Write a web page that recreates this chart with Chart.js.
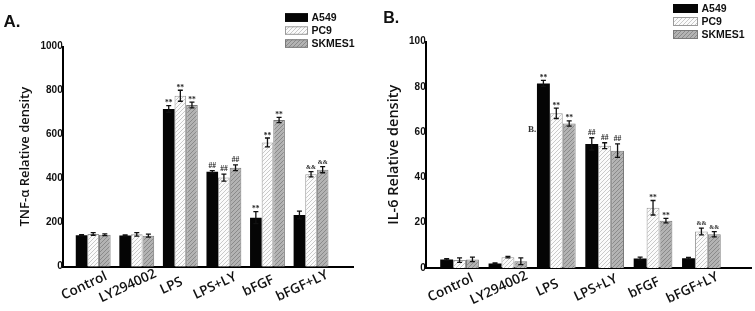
<!DOCTYPE html>
<html>
<head>
<meta charset="utf-8">
<script src="https://cdn.jsdelivr.net/npm/chart.js@4.4.0/dist/chart.umd.min.js"></script>
<style>
  html, body { margin: 0; padding: 0; background: #fff; }
  #wrap { position: relative; width: 755px; height: 311px; overflow: hidden; }
  #panelA { position: absolute; left: 0; top: 0; }
  #panelB { position: absolute; left: 380px; top: 0; }
</style>
</head>
<body>
<div id="wrap">
  <canvas id="panelA" width="378" height="311"></canvas>
  <canvas id="panelB" width="375" height="311"></canvas>
</div>
<script>
// categorias e séries
const categories = ['Control', 'LY294002', 'LPS', 'LPS+LY', 'bFGF', 'bFGF+LY'];
const seriesNames = ['A549', 'PC9', 'SKMES1'];

// painel A - TNF-α
const tnfTicks = [0, 200, 400, 600, 800, 1000];
const tnfA549 = [143, 142, 717, 432, 223, 235];
const tnfPC9 = [149, 147, 777, 405, 565, 420];
const tnfSKMES1 = [145, 141, 735, 450, 667, 441];
const tnfErrA549 = [3, 3, 15, 5, 27, 18];
const tnfErrPC9 = [6, 8, 25, 16, 20, 12];
const tnfErrSKMES1 = [4, 7, 13, 13, 12, 14];
const tnfMarkA549 = ['', '', '**', '##', '**', ''];
const tnfMarkPC9 = ['', '', '**', '##', '**', '&&'];
const tnfMarkSKMES1 = ['', '', '**', '##', '**', '&&'];

// painel B - IL-6
const ilTicks = [0, 20, 40, 60, 80, 100];
const ilA549 = [3.8, 2.0, 81.5, 54.8, 4.2, 4.3];
const ilPC9 = [3.5, 4.8, 68.3, 54.0, 26.6, 16.1];
const ilSKMES1 = [3.8, 3.0, 63.8, 51.8, 20.9, 14.9];
const ilErrA549 = [0.3, 0.3, 1.3, 2.7, 0.6, 0.4];
const ilErrPC9 = [1.0, 0.3, 2.3, 1.3, 3.2, 1.5];
const ilErrSKMES1 = [1.0, 1.5, 1.2, 3.0, 1.0, 1.2];
const ilMarkA549 = ['', '', '**', '##', '', ''];
const ilMarkPC9 = ['', '', '**', '##', '**', '&&'];
const ilMarkSKMES1 = ['', '', '**', '##', '**', '&&'];

const SANS = 'Arial, "Liberation Sans", sans-serif';
const LABEL_FONT = '"Open Sans", Arial, sans-serif';

function makeHatch(bg, stripe) {
  const c = document.createElement('canvas');
  c.width = 4; c.height = 4;
  const g = c.getContext('2d');
  g.fillStyle = bg;
  g.fillRect(0, 0, 4, 4);
  g.strokeStyle = stripe;
  g.lineWidth = 1;
  g.beginPath();
  g.moveTo(0, 4); g.lineTo(4, 0);
  g.moveTo(-1, 1); g.lineTo(1, -1);
  g.moveTo(3, 5); g.lineTo(5, 3);
  g.stroke();
  return g.createPattern(c, 'repeat');
}

const fillA549 = '#050505';
const fillPC9 = makeHatch('#fbfbfb', '#c9c9c9');
const fillSKMES1 = makeHatch('#b3b3b3', '#8a8a8a');
const borderColors = ['#050505', '#9a9a9a', '#7a7a7a'];

function toPoints(vals) {
  return vals.map((v, i) => ({ x: i, y: v }));
}

// desenha barras de erro, marcas, rótulos do eixo x, legenda e letra do painel
function panelDecor(cfg) {
  return {
    id: 'panelDecor',
    afterDatasetsDraw(chart) {
      const ctx = chart.ctx;
      const yS = chart.scales.y;
      ctx.save();
      chart.data.datasets.forEach((ds, di) => {
        const meta = chart.getDatasetMeta(di);
        meta.data.forEach((bar, i) => {
          const v = ds.data[i].y;
          const e = cfg.errors[di][i];
          const top = yS.getPixelForValue(v + e);
          const bot = yS.getPixelForValue(v - e);
          ctx.strokeStyle = '#111';
          ctx.lineWidth = 1.3;
          ctx.beginPath();
          ctx.moveTo(bar.x, top); ctx.lineTo(bar.x, bot);
          ctx.moveTo(bar.x - 2.5, top); ctx.lineTo(bar.x + 2.5, top);
          ctx.moveTo(bar.x - 2.5, bot); ctx.lineTo(bar.x + 2.5, bot);
          ctx.stroke();
          const mark = cfg.marks[di][i];
          if (mark) {
            ctx.fillStyle = '#222';
            ctx.font = (mark === '&&' ? 'bold 6px ' : 'bold 7.5px ') + '"Liberation Serif", serif';
            ctx.textAlign = 'center';
            ctx.textBaseline = 'alphabetic';
            const off = mark === '**' ? 0.5 : 3;
            ctx.fillText(mark, bar.x, top - off);
          }
        });
      });
      ctx.restore();
    },
    afterDraw(chart) {
      const ctx = chart.ctx;
      const xS = chart.scales.x;
      ctx.save();
      // rótulos do eixo x, inclinados
      ctx.fillStyle = '#111';
      ctx.font = '600 13.5px ' + LABEL_FONT;
      ctx.textAlign = 'center';
      ctx.textBaseline = 'middle';
      categories.forEach((c, i) => {
        const px = xS.getPixelForValue(i) + cfg.labelShift;
        ctx.save();
        ctx.translate(px, cfg.labelY);
        ctx.rotate(-25 * Math.PI / 180);
        ctx.fillText(c, 0, 0);
        ctx.restore();
      });
      // legenda
      const lg = cfg.legend;
      chart.data.datasets.forEach((ds, di) => {
        const by = lg.y + di * lg.step;
        ctx.fillStyle = ds.backgroundColor;
        ctx.fillRect(lg.x, by, lg.w, lg.h);
        ctx.strokeStyle = ds.borderColor;
        ctx.lineWidth = 1;
        ctx.strokeRect(lg.x + 0.5, by + 0.5, lg.w - 1, lg.h - 1);
        ctx.fillStyle = '#111';
        ctx.font = 'bold 10.5px ' + SANS;
        ctx.textAlign = 'left';
        ctx.textBaseline = 'middle';
        ctx.fillText(ds.label, lg.x + lg.w + 3.5, by + lg.h / 2 + 0.5);
      });
      // letra do painel
      ctx.fillStyle = '#111';
      ctx.font = 'bold ' + cfg.letterSize + 'px ' + SANS;
      ctx.textAlign = 'left';
      ctx.textBaseline = 'alphabetic';
      ctx.fillText(cfg.letter, cfg.letterX, cfg.letterY);
      if (cfg.stray) {
        ctx.font = 'bold 9px "Liberation Serif", serif';
        ctx.fillStyle = '#333';
        ctx.fillText(cfg.stray.text, cfg.stray.x, cfg.stray.y);
      }
      ctx.restore();
    }
  };
}

function buildChart(id, p) {
  const ctx = document.getElementById(id).getContext('2d');
  return new Chart(ctx, {
    type: 'bar',
    data: {
      datasets: [
        { label: seriesNames[0], data: toPoints(p.a549), backgroundColor: fillA549, borderColor: borderColors[0], borderWidth: 0 },
        { label: seriesNames[1], data: toPoints(p.pc9), backgroundColor: fillPC9, borderColor: borderColors[1], borderWidth: 1 },
        { label: seriesNames[2], data: toPoints(p.skmes1), backgroundColor: fillSKMES1, borderColor: borderColors[2], borderWidth: 1 }
      ]
    },
    options: {
      responsive: false,
      animation: false,
      devicePixelRatio: 1,
      categoryPercentage: 0.8,
      barPercentage: 1,
      layout: { padding: { left: 0, right: p.padRight, top: p.padTop, bottom: 0 } },
      plugins: { legend: { display: false }, tooltip: { enabled: false } },
      scales: {
        x: {
          type: 'linear',
          offset: false,
          min: -0.7,
          max: p.xMax,
          grid: { display: false, drawTicks: false },
          border: { display: true, color: '#000', width: 2 },
          ticks: { display: false },
          afterBuildTicks: (axis) => { axis.ticks = categories.map((c, i) => ({ value: i })); },
          afterFit: (axis) => { axis.height = p.xHeight; }
        },
        y: {
          min: 0,
          max: p.ticks[p.ticks.length - 1],
          grid: { display: false, drawTicks: false },
          border: { display: true, color: '#000', width: 2 },
          afterBuildTicks: (axis) => { axis.ticks = p.ticks.map(v => ({ value: v })); },
          ticks: {
            color: '#111', padding: 0,
            font: { family: SANS, size: 10, weight: 'bold' },
            callback: (v) => String(v)
          },
          title: {
            display: true,
            text: p.yTitle,
            color: '#111',
            font: { family: LABEL_FONT, size: p.yTitleSize, weight: '600' },
            padding: { top: p.yTitlePad, bottom: 0 }
          },
          afterFit: (axis) => { axis.width = p.yWidth; }
        }
      }
    },
    plugins: [panelDecor(p.decor)]
  });
}

buildChart('panelA', {
  a549: tnfA549, pc9: tnfPC9, skmes1: tnfSKMES1,
  ticks: tnfTicks, xMax: 5.97,
  padRight: 24.7, padTop: 46.7, xHeight: 44.3, yWidth: 62.7,
  yTitle: 'TNF-α Relative density', yTitleSize: 13, yTitlePad: 17,
  decor: {
    errors: [tnfErrA549, tnfErrPC9, tnfErrSKMES1],
    marks: [tnfMarkA549, tnfMarkPC9, tnfMarkSKMES1],
    labelShift: -9, labelY: 286,
    legend: { x: 285, y: 13.3, step: 13, w: 23, h: 8.5 },
    letter: 'A.', letterSize: 17, letterX: 3.5, letterY: 27.3
  }
});

buildChart('panelB', {
  a549: ilA549, pc9: ilPC9, skmes1: ilSKMES1,
  ticks: ilTicks, xMax: 6.04,
  padRight: 3.3, padTop: 41.5, xHeight: 43, yWidth: 45.7,
  yTitle: 'IL-6 Relative density', yTitleSize: 14.5, yTitlePad: 5,
  decor: {
    errors: [ilErrA549, ilErrPC9, ilErrSKMES1],
    marks: [ilMarkA549, ilMarkPC9, ilMarkSKMES1],
    labelShift: -9, labelY: 288,
    legend: { x: 293, y: 4, step: 13, w: 25, h: 9 },
    letter: 'B.', letterSize: 16, letterX: 3.3, letterY: 23.3,
    stray: { text: 'B.', x: 148, y: 132 }
  }
});
</script>
</body>
</html>
